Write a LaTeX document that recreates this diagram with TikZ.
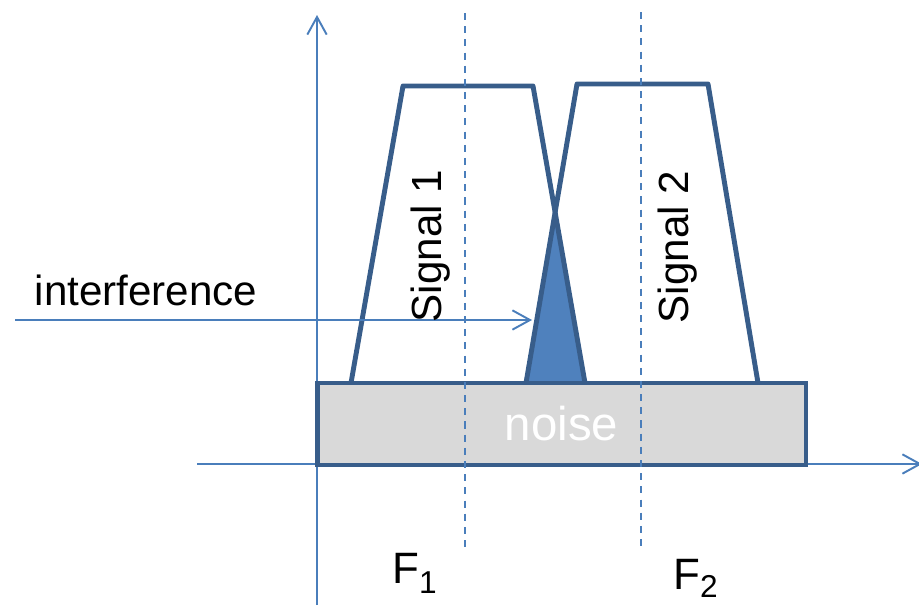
\documentclass[tikz,border=0pt]{standalone}
\usepackage{fontspec}
\setmainfont{Liberation Sans}
\usepackage{xcolor}
\usetikzlibrary{arrows.meta,positioning}
\definecolor{axisblue}{HTML}{4A7EBB}
\definecolor{edgeblue}{HTML}{385D8A}
\definecolor{fillblue}{HTML}{4F81BD}
\definecolor{noisegray}{HTML}{D9D9D9}

\begin{document}
\begin{tikzpicture}[x=0.02cm, y=-0.02cm,
  axis/.style={draw=axisblue, line width=1.1pt,
    -{Straight Barb[length=10pt, width=11pt]}},
  guide/.style={draw=axisblue, line width=0.9pt, dash pattern=on 4pt off 3.5pt},
  band/.style={draw=edgeblue, line width=2.8pt, line join=round},
  noisebox/.style={draw=edgeblue, fill=noisegray, line width=2.8pt,
    minimum width=9.78cm, minimum height=1.64cm, inner sep=0pt,
    text=white, font=\fontsize{27}{30}\selectfont},
  lbl/.style={font=\fontsize{24}{28}\selectfont, inner sep=0pt},
  flbl/.style={font=\fontsize{25}{28}\selectfont, inner sep=0pt, anchor=base west},
]
  \useasboundingbox (0,0) rectangle (919,605);

  % axes
  \coordinate (y-bot) at (317,605);
  \coordinate (y-top) at (317,15);
  \coordinate (x-left) at (197,464);
  \coordinate (x-right) at (922,464);
  \draw[axis] (y-bot) -- (y-top);
  \draw[axis] (x-left) -- (x-right);

  % signal bands
  \coordinate (s1-bl) at (351,383);
  \coordinate (s1-tl) at (403,86);
  \coordinate (s1-tr) at (533,86);
  \coordinate (s1-br) at (585,383);
  \coordinate (s2-bl) at (526,383);
  \coordinate (s2-tl) at (577,84);
  \coordinate (s2-tr) at (708,84);
  \coordinate (s2-br) at (758,383);
  \coordinate (cross) at (intersection of s1-tr--s1-br and s2-tl--s2-bl);

  \fill[fillblue] (s2-bl) -- (cross) -- (s1-br) -- cycle;
  \draw[band] (s1-bl) -- (s1-tl) -- (s1-tr) -- (s1-br);
  \draw[band] (s2-bl) -- (s2-tl) -- (s2-tr) -- (s2-br);
  \draw[band] (s2-bl) -- (s1-br);

  \node[noisebox] (noise) at (561.5,424) {noise};

  % carrier frequencies
  \coordinate (f1-top) at (465,13);
  \coordinate (f1-bot) at (465,547);
  \coordinate (f2-top) at (641,12);
  \coordinate (f2-bot) at (641,546);
  \draw[guide] (f1-top) -- (f1-bot);
  \draw[guide] (f2-top) -- (f2-bot);

  % interference pointer
  \coordinate (intf-start) at (15,320);
  \coordinate (intf-end) at (532,320);
  \draw[axis] (intf-start) -- (intf-end);

  \node[lbl, anchor=base] (intf) at (146,305) {interference};
  \node[lbl, rotate=90] (sig1) at (431,246) {Signal 1};
  \node[lbl, rotate=90] (sig2) at (678,247) {Signal 2};
  \node[flbl] (f1) at (392,583)
    {F\raisebox{-6pt}{\fontsize{18}{20}\selectfont 1}};
  \node[flbl] (f2) at (673,589)
    {F\raisebox{-5pt}{\fontsize{18}{20}\selectfont 2}};
\end{tikzpicture}
\end{document}
